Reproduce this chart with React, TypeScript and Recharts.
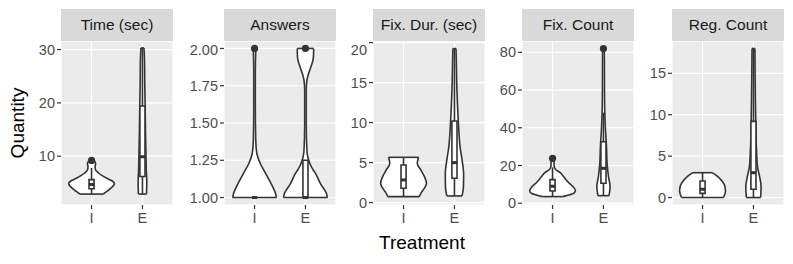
import React from 'react';
import {
  ComposedChart, Area, XAxis, YAxis, CartesianGrid,
  ReferenceArea, ReferenceLine, ReferenceDot,
} from 'recharts';

const FONT = '"Liberation Sans", Arial, Helvetica, sans-serif';

const treatments = ['I', 'E'];
const facetTitles = ['Time (sec)', 'Answers', 'Fix. Dur. (sec)', 'Fix. Count', 'Reg. Count'];

// violin outlines: y levels + half widths (in x units, 0.45 = widest)
const timeIY = [2.9, 3.4, 4.0, 4.9, 5.4, 5.9, 6.4, 6.9, 7.4, 8.0, 8.6, 9.2];
const timeIW = [0.23, 0.3, 0.38, 0.45, 0.4, 0.29, 0.2, 0.13, 0.08, 0.07, 0.08, 0.05];
const timeEY = [2.9, 5.3, 7.5, 9.9, 14.3, 19.3, 23.7, 28, 30.3];
const timeEW = [0.08, 0.085, 0.075, 0.07, 0.06, 0.053, 0.045, 0.04, 0.03];

const ansIY = [1.0, 1.03, 1.09, 1.16, 1.23, 1.3, 1.39, 1.61, 1.83, 1.94, 2.0];
const ansIW = [0.43, 0.41, 0.33, 0.22, 0.11, 0.043, 0.023, 0.015, 0.015, 0.02, 0.025];
const ansEY = [1.0, 1.03, 1.09, 1.16, 1.21, 1.26, 1.31, 1.49, 1.72, 1.79, 1.83, 1.88, 1.92, 1.97, 2.0];
const ansEW = [0.43, 0.41, 0.3, 0.2, 0.11, 0.055, 0.03, 0.015, 0.015, 0.03, 0.06, 0.11, 0.147, 0.16, 0.16];

const durIY = [0.75, 1.16, 1.8, 2.41, 3.25, 4.08, 4.9, 5.3, 5.66];
const durIW = [0.31, 0.34, 0.41, 0.45, 0.41, 0.34, 0.27, 0.28, 0.295];
const durEY = [0.83, 2.0, 3.66, 5.3, 7.0, 9.1, 12, 15.3, 17.8, 19.25];
const durEW = [0.15, 0.177, 0.18, 0.15, 0.11, 0.085, 0.062, 0.043, 0.036, 0.03];

const fixIY = [3.5, 5.3, 6.7, 8.8, 11.4, 14, 16.2, 17.9, 19.7, 22, 23.8];
const fixIW = [0.2, 0.42, 0.45, 0.4, 0.3, 0.22, 0.15, 0.06, 0.03, 0.03, 0.02];
const fixEY = [4, 8.8, 14, 21, 29.7, 38.6, 47.4, 59.7, 75.6, 82];
const fixEW = [0.11, 0.13, 0.1, 0.072, 0.06, 0.04, 0.027, 0.02, 0.018, 0.015];

const regIY = [0, 0.72, 1.33, 1.93, 2.54, 3.0];
const regIW = [0.41, 0.45, 0.44, 0.39, 0.3, 0.19];
const regEY = [0, 1.33, 2.54, 3.7, 5.7, 8.96, 12.98, 16.6, 18];
const regEW = [0.14, 0.15, 0.12, 0.08, 0.06, 0.045, 0.036, 0.03, 0.028];

// box stats: [lower whisker, q1, median, q3, upper whisker]
const timeBox = [[2.9, 3.9, 4.7, 5.6, 7.8], [2.9, 6.2, 9.9, 19.4, 30.3]];
const ansBox = [[1, 1, 1, 1, 1], [1, 1, 1, 1.25, 1.25]];
const durBox = [[0.75, 1.8, 2.83, 4.7, 5.66], [0.83, 3.05, 5.0, 10.2, 19.25]];
const fixBox = [[3.5, 6.5, 9, 12.5, 19], [4, 10.6, 18.5, 32.6, 48]];
const regBox = [[0, 0.5, 1, 2, 3], [0, 1, 3, 9.2, 18]];

const timeOut = [[9.2], []];
const ansOut = [[2], [2]];
const durOut = [[], []];
const fixOut = [[23.8], [82]];
const regOut = [[], []];

const yDomains = [[0.85, 31.6], [0.95, 2.05], [-0.3, 20.2], [-0.95, 86], [-0.9, 18.9]];
const majorTicks = [[10, 20, 30], [1, 1.25, 1.5, 1.75, 2], [0, 5, 10, 15, 20], [0, 20, 40, 60, 80], [0, 5, 10, 15]];
const minorTicks = [[5, 15, 25], [1.125, 1.375, 1.625, 1.875], [2.5, 7.5, 12.5, 17.5], [10, 30, 50, 70], [2.5, 7.5, 12.5, 17.5]];

const panels = [
  { violins: [[timeIY, timeIW], [timeEY, timeEW]], box: timeBox, out: timeOut },
  { violins: [[ansIY, ansIW], [ansEY, ansEW]], box: ansBox, out: ansOut },
  { violins: [[durIY, durIW], [durEY, durEW]], box: durBox, out: durOut },
  { violins: [[fixIY, fixIW], [fixEY, fixEW]], box: fixBox, out: fixOut },
  { violins: [[regIY, regIW], [regEY, regEW]], box: regBox, out: regOut },
];

const PLOT_LEFT = [61, 224, 373, 522, 672];
const PLOT_W = 112;
const PLOT_TOP = 41;
const PLOT_H = 164;
const AXW = 50;
const INK = '#333333';
const LW = 1.6;
const BOX_HALF = 0.05;

const Panel = ({ i }: { i: number }) => {
  const p = panels[i];
  const fmt = (v: number) => (i === 1 ? v.toFixed(2) : String(v));
  return (
    <div style={{ position: 'absolute', left: PLOT_LEFT[i] - AXW, top: PLOT_TOP }}>
      <ComposedChart layout="vertical" width={AXW + PLOT_W} height={PLOT_H + 40}
        margin={{ top: 0, right: 0, bottom: 0, left: 0 }}>
        <CartesianGrid fill="#EBEBEB" stroke="#FFFFFF" strokeWidth={1.2} />
        <CartesianGrid yAxisId="minor" stroke="#FFFFFF" strokeWidth={0.6} vertical={false} fill="none" />
        <XAxis type="number" domain={[0.4, 2.6]} ticks={[1, 2]} allowDataOverflow
          tickFormatter={(v: number) => treatments[v - 1]} height={40}
          axisLine={false} tickSize={4} tickMargin={4}
          tickLine={{ stroke: INK, strokeWidth: 1.2 }}
          tick={{ fontSize: 14.5, fill: '#4D4D4D', fontFamily: FONT }} />
        <YAxis type="number" dataKey="y" domain={yDomains[i]} ticks={majorTicks[i]} allowDataOverflow reversed
          tickFormatter={fmt} width={AXW} axisLine={false} tickSize={4} tickMargin={2}
          tickLine={{ stroke: INK, strokeWidth: 1.2 }}
          tick={{ fontSize: 14.5, fill: '#4D4D4D', fontFamily: FONT }} />
        <YAxis yAxisId="minor" type="number" domain={yDomains[i]} ticks={minorTicks[i]} allowDataOverflow reversed hide />
        {p.violins.map(([ys, ws], k) => {
          const pos = k + 1;
          const rows = ys.map((y, j) => ({ y, v: [pos - ws[j], pos + ws[j]] }));
          return (
            <Area key={`v${k}`} data={rows} dataKey="v" type="monotone" fill="#FFFFFF" fillOpacity={1}
              stroke={INK} strokeWidth={LW} dot={false} activeDot={false} isAnimationActive={false} />
          );
        })}
        {p.violins.map(([ys, ws], k) => {
          const pos = k + 1;
          const n = ys.length - 1;
          return [
            <ReferenceLine key={`c0${k}`} stroke={INK} strokeWidth={LW}
              segment={[{ x: pos - ws[0], y: ys[0] }, { x: pos + ws[0], y: ys[0] }]} />,
            <ReferenceLine key={`c1${k}`} stroke={INK} strokeWidth={LW}
              segment={[{ x: pos - ws[n], y: ys[n] }, { x: pos + ws[n], y: ys[n] }]} />,
          ];
        })}
        {p.box.map((b, k) => {
          const pos = k + 1;
          return [
            <ReferenceLine key={`w0${k}`} stroke={INK} strokeWidth={LW}
              segment={[{ x: pos, y: b[0] }, { x: pos, y: b[1] }]} />,
            <ReferenceLine key={`w1${k}`} stroke={INK} strokeWidth={LW}
              segment={[{ x: pos, y: b[3] }, { x: pos, y: b[4] }]} />,
            <ReferenceArea key={`b${k}`} x1={pos - BOX_HALF} x2={pos + BOX_HALF} y1={b[1]} y2={b[3]}
              fill="#FFFFFF" fillOpacity={1} stroke={INK} strokeWidth={LW} />,
            <ReferenceLine key={`m${k}`} stroke={INK} strokeWidth={3}
              segment={[{ x: pos - BOX_HALF, y: b[2] }, { x: pos + BOX_HALF, y: b[2] }]} />,
          ];
        })}
        {p.out.map((os, k) => os.map((o, j) => (
          <ReferenceDot key={`o${k}${j}`} x={k + 1} y={o} r={3.6} fill={INK} stroke="none" />
        )))}
      </ComposedChart>
      <div style={{
        position: 'absolute', left: AXW, top: -32, width: PLOT_W, height: 32,
        background: '#D9D9D9', color: '#1A1A1A', fontFamily: FONT, fontSize: 15.5,
        display: 'flex', alignItems: 'center', justifyContent: 'center', whiteSpace: 'nowrap',
      }}>{facetTitles[i]}</div>
    </div>
  );
};

export default function App() {
  return (
    <div style={{ position: 'absolute', left: 0, top: 0, width: 793, height: 264, background: '#FFFFFF', overflow: 'hidden' }}>
      {panels.map((_, i) => <Panel key={i} i={i} />)}
      <div style={{
        position: 'absolute', left: 18, top: 123, transform: 'translate(-50%, -50%) rotate(-90deg)',
        fontFamily: FONT, fontSize: 19, color: '#000', whiteSpace: 'nowrap',
      }}>Quantity</div>
      <div style={{
        position: 'absolute', left: 422, top: 243, transform: 'translate(-50%, -50%)',
        fontFamily: FONT, fontSize: 19, color: '#000', whiteSpace: 'nowrap',
      }}>Treatment</div>
    </div>
  );
}
